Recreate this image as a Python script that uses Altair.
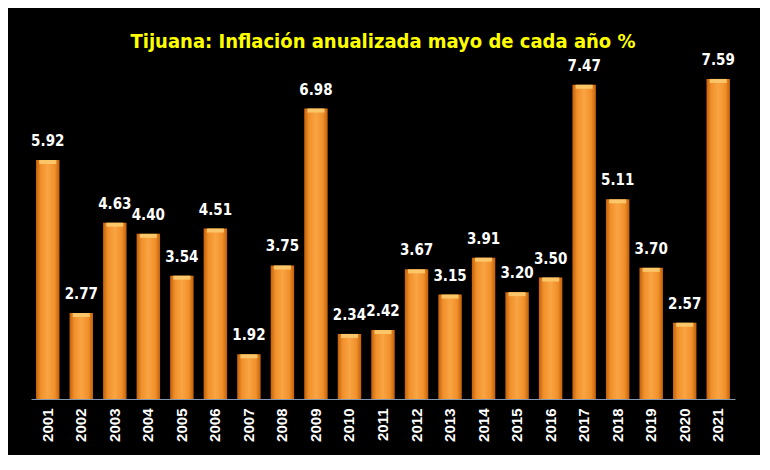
import altair as alt
import pandas as pd

years = ["2001", "2002", "2003", "2004", "2005", "2006", "2007", "2008", "2009", "2010", "2011",
         "2012", "2013", "2014", "2015", "2016", "2017", "2018", "2019", "2020", "2021"]
values = [5.92, 2.77, 4.63, 4.40, 3.54, 4.51, 1.92, 3.75, 6.98, 2.34, 2.42,
          3.67, 3.15, 3.91, 3.20, 3.50, 7.47, 5.11, 3.70, 2.57, 7.59]

df = pd.DataFrame({"year": years, "value": values})

FONT = "DejaVu Sans Condensed, Liberation Sans, sans-serif"

x_enc = alt.X(
    "year:N",
    sort=years,
    title=None,
    scale=alt.Scale(paddingInner=0.3, paddingOuter=0.15),
    axis=alt.Axis(
        labelAngle=-90,
        labelColor="white",
        labelFont="Liberation Sans, sans-serif",
        labelFontSize=15,
        labelFontWeight="bold",
        labelPadding=9,
        ticks=False,
        domainColor="#8497B0",
        domainWidth=1,
        grid=False,
    ),
)
y_scale = alt.Scale(domain=[1, 8], zero=False, nice=False)

base = alt.Chart(df)

grad = alt.Gradient(
    gradient="linear",
    x1=0, x2=1, y1=0, y2=0,
    stops=[
        alt.GradientStop(color="#C2600A", offset=0),
        alt.GradientStop(color="#F0902A", offset=0.2),
        alt.GradientStop(color="#F9A443", offset=0.5),
        alt.GradientStop(color="#F0902A", offset=0.8),
        alt.GradientStop(color="#C2600A", offset=1),
    ],
)

bars = base.mark_bar(color=grad).encode(
    x=x_enc,
    y=alt.Y("value:Q", scale=y_scale, axis=None),
    y2=alt.datum(1),
)

caps = base.mark_tick(color="#FCCB6E", thickness=4, opacity=0.9, yOffset=2).encode(
    x=alt.X("year:N", sort=years),
    y=alt.Y("value:Q", scale=y_scale),
    size=alt.value(17),
)

labels = base.mark_text(
    color="white",
    font=FONT,
    fontSize=15,
    fontWeight="bold",
    baseline="bottom",
    dy=-11,
).encode(
    x=alt.X("year:N", sort=years),
    y=alt.Y("value:Q", scale=y_scale),
    text=alt.Text("value:Q", format=".2f"),
)

chart = (
    alt.layer(bars, caps, labels)
    .properties(
        width=704,
        height=340,
        background="black",
        padding={"left": 23, "top": 51, "right": 25, "bottom": 56},
        autosize=alt.AutoSizeParams(type="none"),
        title=alt.TitleParams(
            "Tijuana: Inflación anualizada  mayo de cada año %",
            color="#FFFF00",
            font=FONT,
            fontSize=20,
            fontWeight="bold",
            anchor="middle",
            baseline="alphabetic",
            offset=8,
            dy=23,
        ),
    )
    .configure_view(stroke=None)
)

chart.save("out.html", embed_options={"renderer": "svg", "actions": False})
